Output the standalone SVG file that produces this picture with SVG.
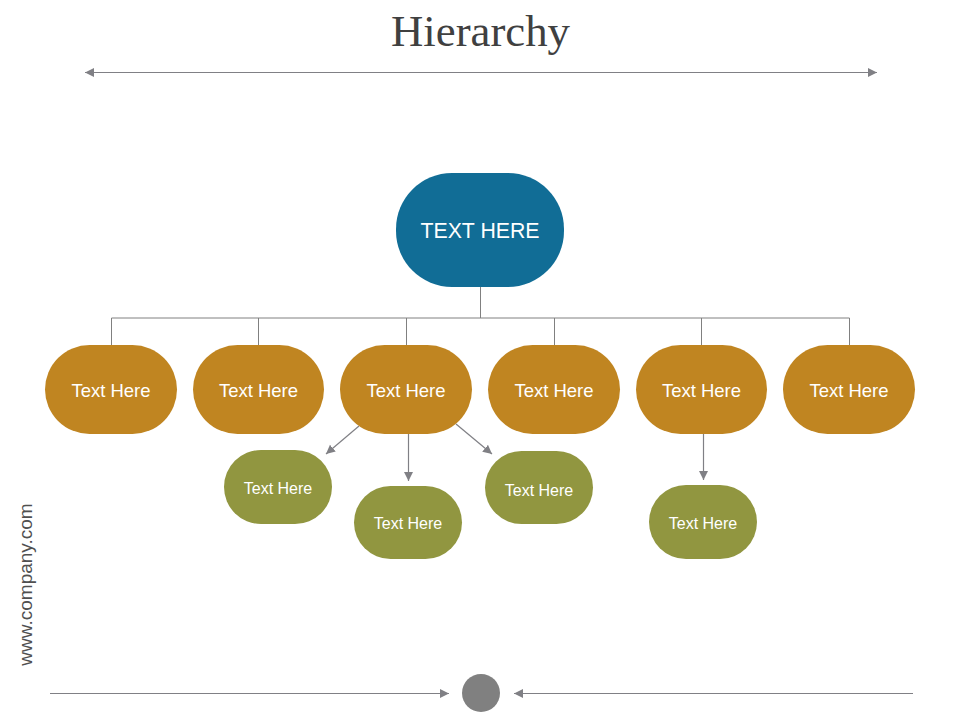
<svg xmlns="http://www.w3.org/2000/svg" width="960" height="720" viewBox="0 0 960 720">
<style>
text{font-family:"Liberation Sans",Arial,sans-serif;text-anchor:middle;fill:#fff}
.l1{fill:#c08521}.l2{fill:#919640}
.t1{font-size:18.500px}.t2{font-size:16px}
.c{fill:none;stroke:#808080;stroke-width:1}
.a{fill:none;stroke:#808085;stroke-width:1.200}
</style>
<defs>
<marker id="ah" markerUnits="userSpaceOnUse" markerWidth="10" markerHeight="10" refX="9" refY="4.500" orient="auto-start-reverse"><path d="M0 0L9 4.500L0 9z" fill="#808085"/></marker>
</defs>
<rect width="960" height="720" fill="#fff"/>
<text x="480.500" y="46" textLength="179" lengthAdjust="spacingAndGlyphs" style="font-family:'Liberation Serif',serif;font-size:45px;fill:#404040">Hierarchy</text>
<g id="connectors">
<path class="a" d="M85 72.500H877" marker-start="url(#ah)" marker-end="url(#ah)"/>
<path class="c" d="M480.500 287V318M111.500 345V318H849.500V345M258.500 318V345M406.500 318V345M554.500 318V345M701.500 318V345"/>
<path class="a" d="M359 426L326 454" marker-end="url(#ah)"/>
<path class="a" d="M408.500 434V481" marker-end="url(#ah)"/>
<path class="a" d="M456 424L492 454" marker-end="url(#ah)"/>
<path class="a" d="M703.500 434V480" marker-end="url(#ah)"/>
<path class="a" d="M50 693.500H449" marker-end="url(#ah)"/>
<path class="a" d="M913 693.500H514" marker-end="url(#ah)"/>
</g>
<g id="root"><rect x="396" y="173" width="168" height="114" rx="56" fill="#116d96"/><text x="480" y="238" font-size="21.300">TEXT HERE</text></g>
<g id="n1"><rect class="l1" x="45" y="345" width="132" height="89" rx="44.500"/><text class="t1" x="111" y="397">Text Here</text></g>
<g id="n2"><rect class="l1" x="193" y="345" width="131" height="89" rx="44.500"/><text class="t1" x="258.500" y="397">Text Here</text></g>
<g id="n3"><rect class="l1" x="340" y="345" width="132" height="89" rx="44.500"/><text class="t1" x="406" y="397">Text Here</text></g>
<g id="n4"><rect class="l1" x="488" y="345" width="132" height="89" rx="44.500"/><text class="t1" x="554" y="397">Text Here</text></g>
<g id="n5"><rect class="l1" x="636" y="345" width="131" height="89" rx="44.500"/><text class="t1" x="701.500" y="397">Text Here</text></g>
<g id="n6"><rect class="l1" x="783" y="345" width="132" height="89" rx="44.500"/><text class="t1" x="849" y="397">Text Here</text></g>
<g id="s1"><rect class="l2" x="224" y="450" width="108" height="74" rx="37"/><text class="t2" x="278" y="494">Text Here</text></g>
<g id="s2"><rect class="l2" x="354" y="486" width="108" height="73" rx="36.500"/><text class="t2" x="408" y="529">Text Here</text></g>
<g id="s3"><rect class="l2" x="485" y="451" width="108" height="73" rx="36.500"/><text class="t2" x="539" y="496">Text Here</text></g>
<g id="s4"><rect class="l2" x="649" y="485" width="108" height="74" rx="37"/><text class="t2" x="703" y="529">Text Here</text></g>
<circle id="dot" cx="481" cy="693" r="19" fill="#808080"/>
<text transform="translate(32 584.500) rotate(-90)" font-size="19" style="fill:#505050">www.company.com</text>
</svg>
